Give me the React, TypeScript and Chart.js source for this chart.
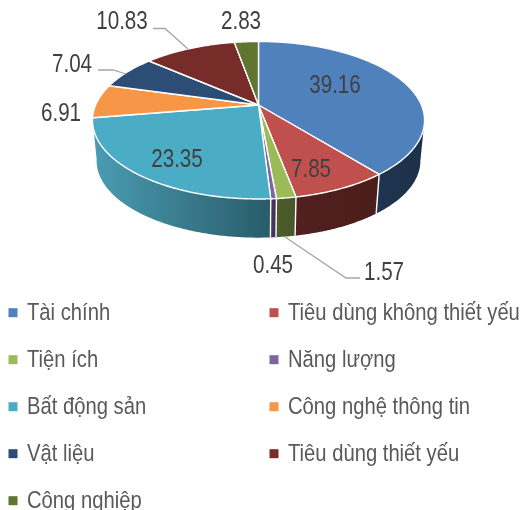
import React, { useEffect, useRef } from "react";
import { Chart, registerables } from "chart.js";

Chart.register(...registerables);

const categories = ["Tài chính", "Tiêu dùng không thiết yếu", "Tiện ích", "Năng lượng", "Bất động sản", "Công nghệ thông tin", "Vật liệu", "Tiêu dùng thiết yếu", "Công nghiệp"];
const values = [39.16, 7.85, 1.57, 0.45, 23.35, 6.91, 7.04, 10.83, 2.83];
const topColors = ["#4F81BD", "#C0504D", "#9BBB59", "#8064A2", "#4BACC6", "#F79646", "#2C4D75", "#772C2A", "#5F7530"];
const wallLight = ["#1F3550", "#52201E", "#4E5F2A", "#4A3A66", "#4A9CB2", "#9A5C28", "#1B2F48", "#4A1B1A", "#3B491E"];
const wallDark = ["#1D3049", "#4B1D1B", "#47562A", "#3E3056", "#285C6A", "#9A5C28", "#1B2F48", "#4A1B1A", "#3B491E"];

const labelAt = [[335, 86.5], [311, 170.5], [384, 273.5], [273, 266.5], [177, 160.5], [61, 114.5], [72, 65.5], [122, 22.5], [241, 22.5]];
const leaders = [
  [[153, 28.5], [165, 28.5], [188, 49]],
  [[98, 70], [113, 70], [126, 74]],
  [[360, 278], [346, 278], [285, 237]],
];

const CX = 258.5, CY = 105, A = 162.9, B = 75.8, K = 0.1936;
const SHRINK = 0.975, DEPTH = 41;
const WALL_FROM = (101 * Math.PI) / 180, WALL_TO = (260 * Math.PI) / 180;
const FONT = '"Liberation Sans"';
const X_SCALE = 0.825;

function top(t: number) {
  const u = Math.sin(t), v = -Math.cos(t), d = 1 - K * v;
  return [CX + (A * u) / d, CY + (B * v) / d];
}
function bottom(t: number) {
  const [x, y] = top(t);
  return [CX + (x - CX) * SHRINK, CY + (y - CY) * SHRINK + DEPTH];
}
function angles(a: number, b: number) {
  const out: number[] = [];
  const n = Math.max(2, Math.ceil((b - a) / 0.01));
  for (let i = 0; i <= n; i++) out.push(a + ((b - a) * i) / n);
  return out;
}
function narrowText(ctx: CanvasRenderingContext2D, s: string, x: number, y: number) {
  ctx.save();
  ctx.translate(x, y);
  ctx.scale(X_SCALE, 1);
  ctx.fillText(s, 0, 0);
  ctx.restore();
}

const pie3d = {
  id: "pie3d",
  beforeDatasetDraw(chart: any) {
    const ctx = chart.ctx as CanvasRenderingContext2D;
    const arcs = chart.getDatasetMeta(0).data as any[];
    const span = arcs.map((e) => [e.startAngle + Math.PI / 2, e.endAngle + Math.PI / 2]);
    ctx.save();
    ctx.lineJoin = "round";
    span.forEach(([s, e], i) => {
      const a = Math.max(s, WALL_FROM), b = Math.min(e, WALL_TO);
      if (b <= a) return;
      const ts = angles(a, b);
      const up = ts.map(top), dn = ts.map(bottom).reverse();
      const xs = [...up, ...dn].map((p) => p[0]);
      const g = ctx.createLinearGradient(Math.min(...xs), 0, Math.max(...xs), 0);
      g.addColorStop(0, wallLight[i]);
      g.addColorStop(1, wallDark[i]);
      ctx.beginPath();
      [...up, ...dn].forEach((p, k) => (k ? ctx.lineTo(p[0], p[1]) : ctx.moveTo(p[0], p[1])));
      ctx.closePath();
      ctx.fillStyle = g;
      ctx.fill();
    });
    ctx.strokeStyle = "#FFFFFF";
    ctx.lineWidth = 1.4;
    span.forEach(([s]) => {
      if (s <= WALL_FROM || s >= WALL_TO) return;
      const p = top(s), q = bottom(s);
      ctx.beginPath();
      ctx.moveTo(p[0], p[1]);
      ctx.lineTo(q[0], q[1]);
      ctx.stroke();
    });
    span.forEach(([s, e], i) => {
      ctx.beginPath();
      ctx.moveTo(CX, CY);
      angles(s, e).map(top).forEach((p) => ctx.lineTo(p[0], p[1]));
      ctx.closePath();
      ctx.fillStyle = topColors[i];
      ctx.fill();
      ctx.strokeStyle = "#FFFFFF";
      ctx.lineWidth = 1.4;
      ctx.stroke();
    });
    ctx.restore();
    return false;
  },
  afterDatasetsDraw(chart: any) {
    const ctx = chart.ctx as CanvasRenderingContext2D;
    ctx.save();
    ctx.strokeStyle = "#A6A6A6";
    ctx.lineWidth = 1.3;
    leaders.forEach((l) => {
      ctx.beginPath();
      l.forEach((p, k) => (k ? ctx.lineTo(p[0], p[1]) : ctx.moveTo(p[0], p[1])));
      ctx.stroke();
    });
    ctx.fillStyle = "#404040";
    ctx.font = `25px ${FONT}`;
    ctx.textAlign = "center";
    ctx.textBaseline = "middle";
    values.forEach((v, i) => narrowText(ctx, v.toFixed(2), labelAt[i][0], labelAt[i][1]));
    ctx.font = `24.5px ${FONT}`;
    ctx.textAlign = "left";
    categories.forEach((c, i) => {
      const col = i % 2, row = Math.floor(i / 2);
      const y = 312.7 + row * 47;
      const x = col ? 269.5 : 8.5;
      ctx.fillStyle = topColors[i];
      ctx.fillRect(x, y - 4.5, 9, 9);
      ctx.fillStyle = "#595959";
      narrowText(ctx, c, col ? 288 : 27, y + 1);
    });
    ctx.restore();
  },
};

export default function App() {
  const ref = useRef<HTMLCanvasElement>(null);
  useEffect(() => {
    const chart = new Chart(ref.current!, {
      type: "pie",
      data: { labels: categories, datasets: [{ data: values, backgroundColor: topColors, borderWidth: 0 }] },
      options: {
        responsive: false,
        animation: false,
        plugins: { legend: { display: false }, tooltip: { enabled: false } },
      },
      plugins: [pie3d],
    } as any);
    return () => chart.destroy();
  }, []);
  return (
    <div style={{ position: "absolute", left: 0, top: 0, width: 525, height: 510, background: "#fff" }}>
      <canvas ref={ref} width={525} height={510} style={{ display: "block", filter: "blur(0.4px)" }} />
    </div>
  );
}
